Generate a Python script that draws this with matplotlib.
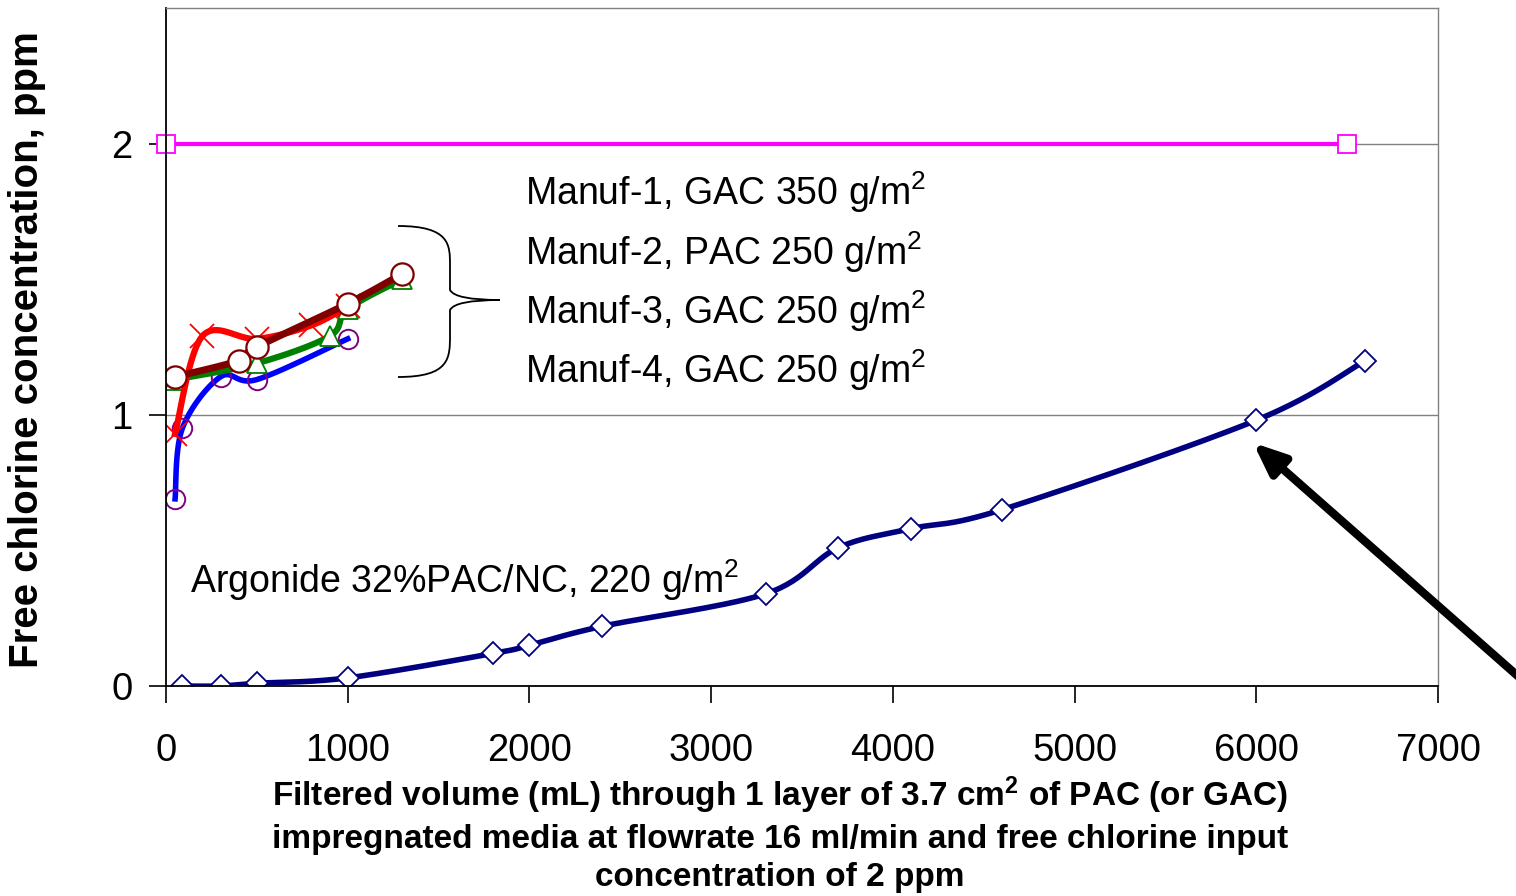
import numpy as np
import matplotlib
matplotlib.use("Agg")
import matplotlib.pyplot as plt
from matplotlib.path import Path
from matplotlib.patches import PathPatch

plt.rcParams['font.family'] = ['Liberation Sans', 'DejaVu Sans']
plt.rcParams['mathtext.default'] = 'regular'

# Argonide 32%PAC/NC
arg_x = [90, 300, 500, 1000, 1800, 2000, 2400, 3300, 3700, 4100, 4600, 6000, 6600]
arg_y = [0.0, 0.0, 0.01, 0.03, 0.12, 0.15, 0.22, 0.34, 0.51, 0.58, 0.65, 0.98, 1.20]

# input concentration
inp_x = [0, 6500]
inp_y = [2.0, 2.0]

# Manuf curves
m_blue_x = [50, 90, 300, 500, 1000]
m_blue_y = [0.69, 0.95, 1.14, 1.13, 1.28]
m_green_x = [50, 500, 900, 1000, 1300]
m_green_y = [1.13, 1.19, 1.29, 1.39, 1.50]
m_red_x = [50, 200, 500, 800, 1000]
m_red_y = [0.93, 1.29, 1.28, 1.33, 1.40]
m_maroon_x = [50, 400, 500, 1000, 1300]
m_maroon_y = [1.14, 1.20, 1.25, 1.41, 1.52]

manuf_labels = ['Manuf-1, GAC 350 g/m$^2$', 'Manuf-2, PAC 250 g/m$^2$',
                'Manuf-3, GAC 250 g/m$^2$', 'Manuf-4, GAC 250 g/m$^2$']


def smooth(x, y, n=30):
    # excel-like smoothed line (catmull-rom)
    x = np.asarray(x, float)
    y = np.asarray(y, float)
    px = np.concatenate([[x[0]], x, [x[-1]]])
    py = np.concatenate([[y[0]], y, [y[-1]]])
    xs, ys = [], []
    t = np.linspace(0, 1, n)
    for i in range(1, len(px) - 2):
        p0, p1, p2, p3 = (np.array([px[j], py[j]]) for j in range(i - 1, i + 3))
        c1 = p1 + (p2 - p0) / 6
        c2 = p2 - (p3 - p1) / 6
        pts = ((1 - t) ** 3)[:, None] * p1 + (3 * (1 - t) ** 2 * t)[:, None] * c1 \
            + (3 * (1 - t) * t ** 2)[:, None] * c2 + (t ** 3)[:, None] * p2
        xs.extend(pts[:, 0])
        ys.extend(pts[:, 1])
    return xs, ys


fig = plt.figure(figsize=(15.16, 8.96), dpi=100)
ax = fig.add_axes([166 / 1516, 1 - 686 / 896, (1438 - 166) / 1516, (686 - 8) / 896])

ax.set_xlim(0, 7000)
ax.set_ylim(0, 2.5)
ax.set_xticks(range(0, 8000, 1000))
ax.set_yticks([0, 1, 2])
for yv in [1, 2]:
    ax.axhline(yv, color='#808080', lw=1, zorder=0)

ax.tick_params(axis='x', direction='out', length=12, width=1.2, labelsize=27.5, pad=22)
ax.tick_params(axis='y', direction='out', length=12, width=1.2, labelsize=27.5, pad=12)
for s in ['left', 'bottom']:
    ax.spines[s].set_linewidth(1.3)
for s in ['top', 'right']:
    ax.spines[s].set_color('#808080')
    ax.spines[s].set_linewidth(1)

# input line
ax.plot(inp_x, inp_y, color='#FF00FF', lw=3, marker='s', ms=13, mfc='white', mec='#FF00FF', mew=1.3,
        clip_on=False)

# Argonide
sx, sy = smooth(arg_x, arg_y)
ax.plot(sx, sy, color='#000080', lw=4)
ax.plot(arg_x, arg_y, ls='none', marker='D', ms=11, mfc='white', mec='#000080', mew=1.3)

# Manuf curves
sx, sy = smooth(m_blue_x, m_blue_y)
ax.plot(sx, sy, color='#0000FF', lw=4)
ax.plot(m_blue_x, m_blue_y, ls='none', marker='o', ms=14, mfc='none', mec='#800080', mew=1.4)

sx, sy = smooth(m_green_x, m_green_y)
ax.plot(sx, sy, color='#008000', lw=4.5)
ax.plot(m_green_x, m_green_y, ls='none', marker='^', ms=15, mfc='white', mec='#008000', mew=1.3)

sx, sy = smooth(m_red_x, m_red_y)
ax.plot(sx, sy, color='#FF0000', lw=4.5)
ax.plot(m_red_x, m_red_y, ls='none', marker='x', ms=17, mec='#FF0000', mew=1.3)

sx, sy = smooth(m_maroon_x, m_maroon_y)
ax.plot(sx, sy, color='#800000', lw=5)
ax.plot(m_maroon_x, m_maroon_y, ls='none', marker='o', ms=16, mfc='white', mec='#800000', mew=1.6)

# labels
for i, lab in enumerate(manuf_labels):
    ax.text(1976, 1.819 - i * 0.2177, lab, fontsize=27, va='center', ha='left')
ax.text(132, 0.391, 'Argonide 32%PAC/NC, 220 g/m$^2$', fontsize=27, va='center', ha='left')

# curly brace (figure pixels)
def fp(x, y):
    return (x / 1516, 1 - y / 896)

verts = [fp(398, 226), fp(450, 226), fp(450, 245), fp(450, 265),
         fp(450, 290), fp(455, 300), fp(500, 300),
         fp(455, 300), fp(450, 310), fp(450, 335),
         fp(450, 358), fp(450, 377), fp(398, 377)]
codes = [Path.MOVETO] + [Path.CURVE4] * 3 + [Path.LINETO] + [Path.CURVE3] * 2 + [Path.CURVE3] * 2 \
    + [Path.LINETO] + [Path.CURVE4] * 3
brace = PathPatch(Path(verts, codes), transform=fig.transFigure, fill=False, lw=1.3, color='black')
fig.patches.append(brace)

# arrow
ax.annotate('', xy=(5982, 0.897), xycoords='data',
            xytext=(1545, 896 - 700), textcoords='figure pixels',
            arrowprops=dict(arrowstyle='-|>,head_length=1.9,head_width=0.8', lw=6, color='black',
                            shrinkA=0, shrinkB=0),
            annotation_clip=False)

fig.text(27 / 1516, 1 - 350 / 896, 'Free chlorine concentration, ppm', rotation=90,
         fontsize=29, fontweight='bold', ha='center', va='center')
fig.text(780 / 1516, 1 - 775 / 896,
         'Filtered volume (mL) through 1 layer of 3.7 cm$^2$ of PAC (or GAC)\n'
         'impregnated media at flowrate 16 ml/min and free chlorine input\n'
         'concentration of 2 ppm',
         fontsize=24, fontweight='bold', ha='center', va='top', linespacing=1.3)

fig.savefig('out.png', dpi=100)
